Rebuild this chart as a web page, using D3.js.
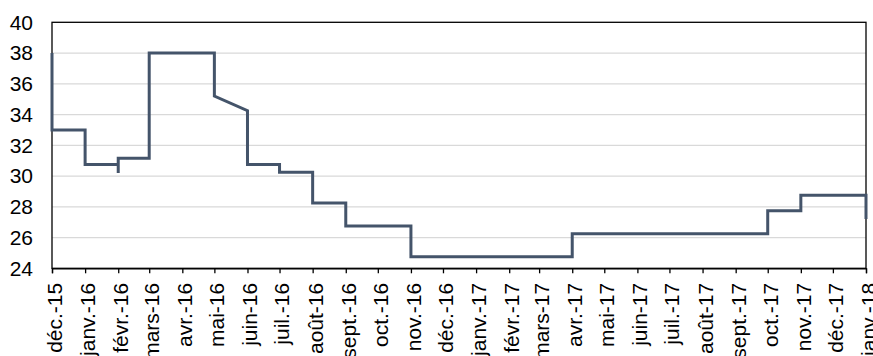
<!DOCTYPE html>
<html>
<head>
<meta charset="utf-8">
<script src="https://cdn.jsdelivr.net/npm/d3@7"></script>
<style>
  html, body { margin: 0; padding: 0; background: #fff; }
  svg { display: block; font-family: "Liberation Sans", Arial, sans-serif; }
</style>
</head>
<body>
<svg id="chart" width="873" height="356"></svg>
<script>
// Breakpoints of the rate series (date, value); repeated dates give the steps
const pointDates = [
  "2015-12-01", "2015-12-01", "2016-01-01", "2016-01-01",
  "2016-02-01", "2016-02-01", "2016-02-01", "2016-03-01",
  "2016-03-01", "2016-05-01", "2016-05-01", "2016-06-01",
  "2016-06-01", "2016-07-01", "2016-07-01", "2016-08-01",
  "2016-08-01", "2016-09-01", "2016-09-01", "2016-11-01",
  "2016-11-01", "2017-04-01", "2017-04-01", "2017-10-01",
  "2017-10-01", "2017-11-01", "2017-11-01", "2018-01-01",
  "2018-01-01"
];
const pointValues = [
  38, 33, 33, 30.75,
  30.75, 30.2, 31.15, 31.15,
  38, 38, 35.2, 34.25,
  30.75, 30.75, 30.25, 30.25,
  28.25, 28.25, 26.75, 26.75,
  24.75, 24.75, 26.25, 26.25,
  27.75, 27.75, 28.75, 28.75,
  27.2
];

// Monthly tick labels, from déc. 2015 to janv. 2018
const tickLabels = [
  "déc.-15", "janv.-16", "févr.-16", "mars-16", "avr.-16", "mai-16",
  "juin-16", "juil.-16", "août-16", "sept.-16", "oct.-16", "nov.-16",
  "déc.-16", "janv.-17", "févr.-17", "mars-17", "avr.-17", "mai-17",
  "juin-17", "juil.-17", "août-17", "sept.-17", "oct.-17", "nov.-17",
  "déc.-17", "janv.-18"
];
const yTicks = [24, 26, 28, 30, 32, 34, 36, 38, 40];

const parse = d3.utcParse("%Y-%m-%d");
const data = pointDates.map((d, i) => ({ date: parse(d), value: pointValues[i] }));
const tickDates = d3.utcMonth.range(parse("2015-12-01"), parse("2018-01-02"));

const svg = d3.select("#chart");
const plot = { left: 52, right: 866, top: 22.3, bottom: 268.3 };
const fontSize = 21;

const x = d3.scaleUtc()
  .domain([parse("2015-12-01"), parse("2018-01-01")])
  .range([plot.left, plot.right]);
const y = d3.scaleLinear().domain([24, 40]).range([plot.bottom, plot.top]);

// Horizontal gridlines
svg.append("g")
  .selectAll("line")
  .data(yTicks.filter(v => v > 24 && v < 40))
  .join("line")
  .attr("x1", plot.left).attr("x2", plot.right)
  .attr("y1", d => y(d)).attr("y2", d => y(d))
  .attr("stroke", "#d9d9d9")
  .attr("stroke-width", 1.3);

// Plot frame
svg.append("rect")
  .attr("x", plot.left).attr("y", plot.top)
  .attr("width", plot.right - plot.left).attr("height", plot.bottom - plot.top)
  .attr("fill", "none")
  .attr("stroke", "#000")
  .attr("stroke-width", 1.3);

// Y axis labels
const yAxis = d3.axisLeft(y).tickValues(yTicks).tickSize(0).tickPadding(19);
svg.append("g")
  .attr("transform", `translate(${plot.left},0)`)
  .call(yAxis)
  .call(g => g.select(".domain").remove())
  .call(g => g.selectAll("text")
    .attr("font-size", fontSize)
    .attr("font-family", "'Liberation Sans', Arial, sans-serif")
    .attr("fill", "#000"));

// X axis with monthly ticks and rotated labels
const xAxis = d3.axisBottom(x)
  .tickValues(tickDates)
  .tickSize(5)
  .tickFormat((d, i) => tickLabels[i]);
svg.append("g")
  .attr("transform", `translate(0,${plot.bottom})`)
  .call(xAxis)
  .call(g => g.select(".domain")
    .attr("stroke", "#000").attr("stroke-width", 1.3))
  .call(g => g.selectAll(".tick line")
    .attr("stroke", "#000").attr("stroke-width", 1.3))
  .call(g => g.selectAll("text")
    .attr("font-size", fontSize)
    .attr("font-family", "'Liberation Sans', Arial, sans-serif")
    .attr("fill", "#000")
    .attr("text-anchor", "end")
    .attr("transform", "translate(0,14.5) rotate(-90)")
    .attr("x", 0).attr("y", 0)
    .attr("dy", "0.45em"));

// Rate series
const line = d3.line()
  .x(d => x(d.date))
  .y(d => y(d.value));
svg.append("path")
  .datum(data)
  .attr("d", line)
  .attr("fill", "none")
  .attr("stroke", "#44546a")
  .attr("stroke-width", 3)
  .attr("stroke-linejoin", "miter");
</script>
</body>
</html>
